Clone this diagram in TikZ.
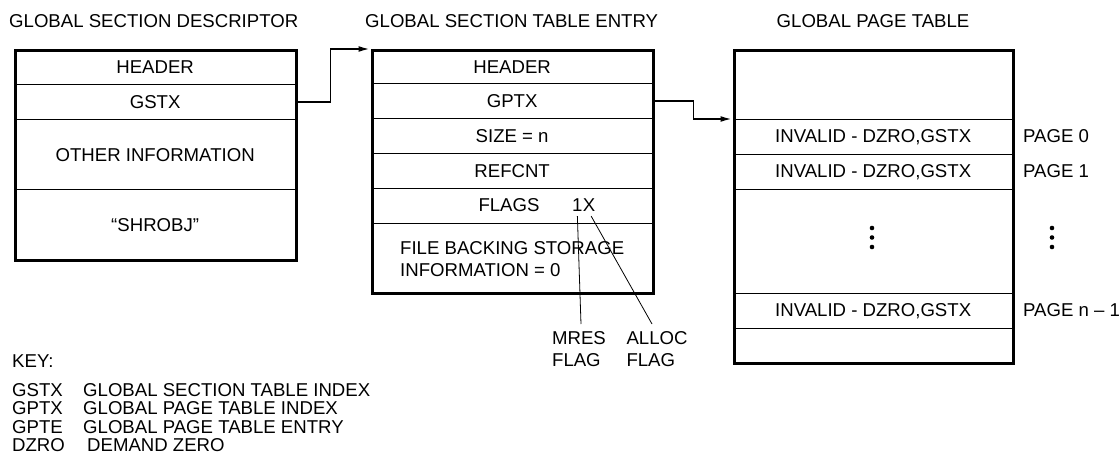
\documentclass[tikz,border=0pt]{standalone}
\usepackage{fontspec}
\setmainfont{Liberation Sans}
\usetikzlibrary{arrows.meta}
\newcommand\fsz{\fontsize{18.6}{22}\selectfont}
\tikzset{
  cell/.style={draw, line width=1.3pt, inner sep=0pt, anchor=north west, font=\fsz},
  frame/.style={draw, line width=3pt, inner sep=0pt, anchor=north west},
  lbl/.style={inner sep=0pt, font=\fsz},
  link/.style={line width=1.6pt, -{Latex[length=11pt,width=6pt]}, shorten >=1.5pt},
  thinline/.style={line width=0.8pt},
  dotn/.style={circle, fill, inner sep=0pt, minimum size=4.6pt},
}
\begin{document}
\begin{tikzpicture}[x=1pt,y=-1pt]
\useasboundingbox (0,0) rectangle (1120,460);

% titles
\node[lbl, anchor=west] (t1) at (9,21.5) {GLOBAL SECTION DESCRIPTOR};
\node[lbl, anchor=west] (t2) at (365,21.5) {GLOBAL SECTION TABLE ENTRY};
\node[lbl] (t3) at (873,21.5) {GLOBAL PAGE TABLE};

% global section descriptor
\node[cell, minimum width=281pt, minimum height=35pt] (dh) at (14,49) {HEADER};
\node[cell, minimum width=281pt, minimum height=35pt] (dg) at (14,84) {GSTX};
\node[cell, minimum width=281pt, minimum height=70pt] (do) at (14,119) {OTHER INFORMATION};
\node[cell, minimum width=281pt, minimum height=70pt] (ds) at (14,189) {“SHROBJ”};
\node[frame, minimum width=281pt, minimum height=210pt] (desc) at (14,49) {};

% global section table entry
\node[cell, minimum width=281pt, minimum height=34pt] (eh) at (371,49) {HEADER};
\node[cell, minimum width=281pt, minimum height=35pt] (eg) at (371,83) {GPTX};
\node[cell, minimum width=281pt, minimum height=35pt] (es) at (371,118) {SIZE = n};
\node[cell, minimum width=281pt, minimum height=35pt] (er) at (371,153) {REFCNT};
\node[cell, minimum width=281pt, minimum height=35pt] (ef) at (371,188) {};
\node[cell, minimum width=281pt, minimum height=69pt] (eb) at (371,223) {};
\node[frame, minimum width=281pt, minimum height=243pt] (gste) at (371,49) {};
\node[lbl] (flags) at (509,205.5) {FLAGS};
\node[lbl, anchor=west] (one) at (572,205.5) {1};
\node[lbl, anchor=west] (xx) at (one.east) {X};
\node[lbl, anchor=west, align=left] (fbs) at (400,259) {FILE BACKING STORAGE\\INFORMATION = 0};

% flag labels
\coordinate (mresend) at (581,324);
\coordinate (allocend) at (652,324);
\draw[thinline] ([yshift=-4pt]one.south) -- (mresend);
\draw[thinline] ([xshift=2pt,yshift=-4pt]xx.south) -- (allocend);
\node[lbl, anchor=north, align=left] (mres) at (579,331) {MRES\\FLAG};
\node[lbl, anchor=north, align=left] (alloc) at (657,331) {ALLOC\\FLAG};

% global page table
\node[cell, minimum width=279pt, minimum height=70pt] (p0) at (733,49) {};
\node[cell, minimum width=279pt, minimum height=35pt] (p1) at (733,119) {INVALID - DZRO,GSTX};
\node[cell, minimum width=279pt, minimum height=35pt] (p2) at (733,154) {INVALID - DZRO,GSTX};
\node[cell, minimum width=279pt, minimum height=104pt] (p3) at (733,189) {};
\node[cell, minimum width=279pt, minimum height=35pt] (p4) at (733,293) {INVALID - DZRO,GSTX};
\node[cell, minimum width=279pt, minimum height=34pt] (p5) at (733,328) {};
\node[frame, minimum width=279pt, minimum height=313pt] (gpt) at (733,49) {};

\node[dotn] (da1) at (872,228) {};
\node[dotn] (da2) at (872,237.5) {};
\node[dotn] (da3) at (872,247) {};
\node[dotn] (db1) at (1052,228) {};
\node[dotn] (db2) at (1052,237.5) {};
\node[dotn] (db3) at (1052,247) {};

\node[lbl, anchor=west] (pg0) at (1023,136.5) {PAGE 0};
\node[lbl, anchor=west] (pg1) at (1023,171.5) {PAGE 1};
\node[lbl, anchor=west] (pgn) at (1023,310.5) {PAGE n – 1};

% connectors
\draw[link] (dg.east) -- ++(34,0) |- (eh.north west);
\draw[link] (eg.east) -- ++(40,0) |- (p1.north west);

% key
\node[lbl, anchor=west] (key) at (12,361) {KEY:};
\node[lbl, anchor=west] (k1a) at (12,390) {GSTX};
\node[lbl, anchor=west] (k1b) at (83,390) {GLOBAL SECTION TABLE INDEX};
\node[lbl, anchor=west] (k2a) at (12,408.5) {GPTX};
\node[lbl, anchor=west] (k2b) at (83,408.5) {GLOBAL PAGE TABLE INDEX};
\node[lbl, anchor=west] (k3a) at (12,427) {GPTE};
\node[lbl, anchor=west] (k3b) at (83,427) {GLOBAL PAGE TABLE ENTRY};
\node[lbl, anchor=west] (k4a) at (12,445.5) {DZRO};
\node[lbl, anchor=west] (k4b) at (87,445.5) {DEMAND ZERO};
\end{tikzpicture}
\end{document}
